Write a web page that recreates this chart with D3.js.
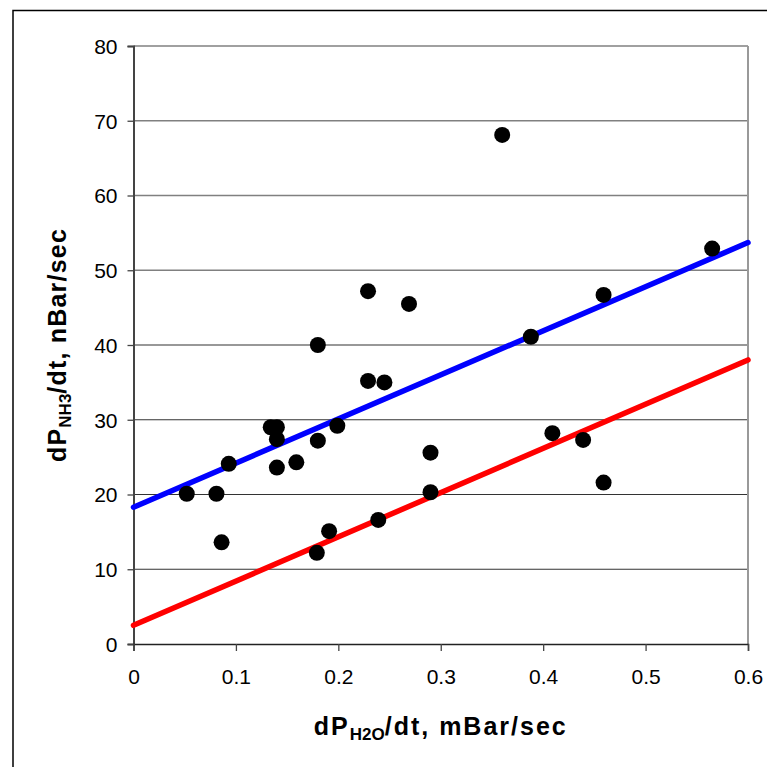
<!DOCTYPE html>
<html>
<head>
<meta charset="utf-8">
<script src="https://cdn.jsdelivr.net/npm/d3@7"></script>
<style>
  html, body { margin: 0; padding: 0; background: #fff; }
  svg { display: block; }
  text { font-family: "Liberation Sans", Arial, sans-serif; }
</style>
</head>
<body>
<svg id="chart" width="767" height="767"></svg>
<script>
// ---- data ----
const xValues = [0.052, 0.081, 0.093, 0.086, 0.134, 0.140, 0.140, 0.140, 0.159, 0.180, 0.180, 0.199, 0.191, 0.179,
                 0.239, 0.229, 0.229, 0.245, 0.269, 0.290, 0.290, 0.360, 0.388, 0.409, 0.439, 0.459, 0.459, 0.565];
const yValues = [20.1, 20.1, 24.1, 13.6, 29.0, 29.0, 27.4, 23.6, 24.3, 27.2, 40.0, 29.2, 15.1, 12.2,
                 16.6, 47.2, 35.2, 35.0, 45.5, 25.6, 20.3, 68.1, 41.1, 28.2, 27.3, 46.7, 21.6, 52.9];
const lineX = [0, 0.6];
const upperLineY = [18.3, 53.7];
const lowerLineY = [2.5, 38.0];
const xTicks = [0, 0.1, 0.2, 0.3, 0.4, 0.5, 0.6];
const yTicks = [0, 10, 20, 30, 40, 50, 60, 70, 80];

// ---- layout ----
const svg = d3.select("#chart");
const pLeft = 133.5, pRight = 748, pTop = 46, pBottom = 644;
const x = d3.scaleLinear().domain([0, 0.6]).range([pLeft, pRight]);
const y = d3.scaleLinear().domain([0, 80]).range([pBottom, pTop]);

// outer frame (extends beyond window)
svg.append("path")
  .attr("d", "M13,775 V10.5 H775")
  .attr("fill", "none").attr("stroke", "#000").attr("stroke-width", 1.5);

// gridlines
svg.append("g").selectAll("line").data(yTicks.filter(d => d > 0)).join("line")
  .attr("x1", pLeft).attr("x2", pRight)
  .attr("y1", d => y(d)).attr("y2", d => y(d))
  .attr("stroke", d => d >= 50 ? "#808080" : "#333").attr("stroke-width", d => d >= 50 ? 1.6 : 1.2);

// right border
svg.append("line").attr("x1", pRight).attr("x2", pRight).attr("y1", pTop).attr("y2", pBottom)
  .attr("stroke", "#999").attr("stroke-width", 2);

// y axis
const yAxis = d3.axisLeft(y).tickValues(yTicks).tickSize(6).tickPadding(10).tickFormat(d3.format("d"));
const gy = svg.append("g").attr("transform", `translate(${pLeft},0)`).call(yAxis);
gy.select(".domain").attr("stroke", "#444").attr("stroke-width", 2);
gy.selectAll(".tick line").attr("stroke", "#444").attr("stroke-width", 1.3);
gy.selectAll(".tick text").attr("font-size", 21).attr("fill", "#000")
  .attr("font-family", "'Liberation Sans', Arial, sans-serif").attr("dy", "0.35em");

// x axis
const xAxis = d3.axisBottom(x).tickValues(xTicks).tickSize(7).tickPadding(18)
  .tickFormat(d => d === 0 ? "0" : d3.format(".1f")(d));
const gx = svg.append("g").attr("transform", `translate(0,${pBottom})`).call(xAxis);
gx.select(".domain").attr("stroke", "#222").attr("stroke-width", 1.5);
gx.selectAll(".tick line").attr("stroke", "#444").attr("stroke-width", 1.3);
gx.selectAll(".tick text").attr("font-size", 21).attr("fill", "#000")
  .attr("font-family", "'Liberation Sans', Arial, sans-serif");

// trend lines
const lineGen = d3.line().x(d => x(d[0])).y(d => y(d[1]));
svg.append("path").datum(lineX.map((v, i) => [v, lowerLineY[i]]))
  .attr("d", lineGen).attr("fill", "none").attr("stroke", "#ff0000")
  .attr("stroke-width", 5.5).attr("stroke-linecap", "round");
svg.append("path").datum(lineX.map((v, i) => [v, upperLineY[i]]))
  .attr("d", lineGen).attr("fill", "none").attr("stroke", "#0000ff")
  .attr("stroke-width", 5.5).attr("stroke-linecap", "round");

// points
svg.append("g").selectAll("circle").data(xValues.map((v, i) => [v, yValues[i]])).join("circle")
  .attr("cx", d => x(d[0])).attr("cy", d => y(d[1])).attr("r", 8).attr("fill", "#000");

// axis titles
const xt = svg.append("text").attr("x", (pLeft + pRight) / 2).attr("y", 735)
  .attr("text-anchor", "middle").attr("font-size", 25).attr("font-weight", "bold")
  .attr("letter-spacing", 2).attr("fill", "#000");
xt.append("tspan").text("dP");
xt.append("tspan").attr("font-size", 17).attr("letter-spacing", 0).attr("dy", 5).text("H2O");
xt.append("tspan").attr("dy", -5).text("/dt, mBar/sec");

const yt = svg.append("text").attr("transform", `translate(66,${(pTop + pBottom) / 2}) rotate(-90)`)
  .attr("text-anchor", "middle").attr("font-size", 25).attr("font-weight", "bold")
  .attr("letter-spacing", 1.2).attr("fill", "#000");
yt.append("tspan").text("dP");
yt.append("tspan").attr("font-size", 17).attr("letter-spacing", 0).attr("dy", 5).text("NH3");
yt.append("tspan").attr("dy", -5).text("/dt, nBar/sec");
</script>
</body>
</html>
